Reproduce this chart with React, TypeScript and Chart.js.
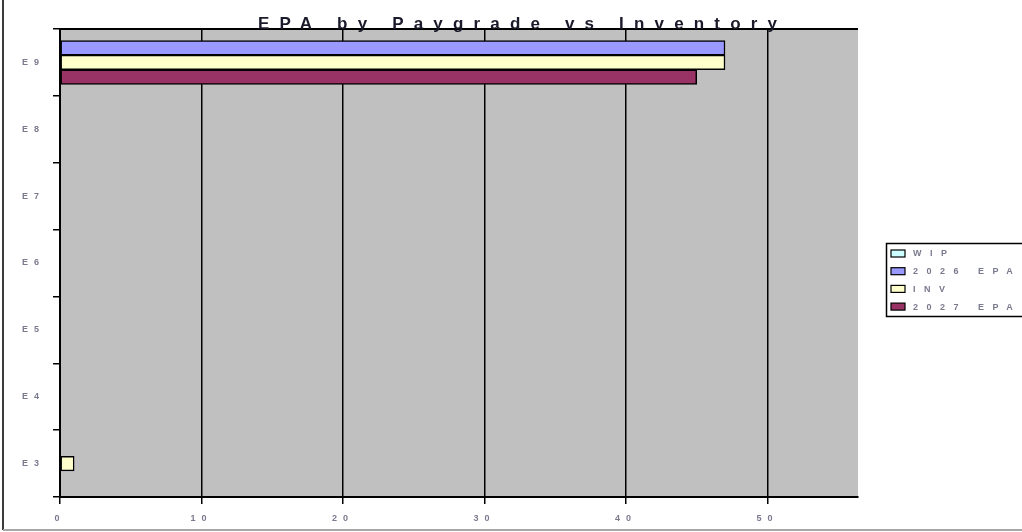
import React, { useEffect, useRef } from "react";
import { Chart, registerables } from "chart.js";

Chart.register(...registerables);

// ---- data ----
const categories = ["E9", "E8", "E7", "E6", "E5", "E4", "E3"];
const seriesNames = ["WIP", "2026 EPA", "INV", "2027 EPA"];
const wipValues: (number | null)[] = [null, null, null, null, null, null, null];
const epa2026Values: (number | null)[] = [47, null, null, null, null, null, null];
const invValues: (number | null)[] = [47, null, null, null, null, null, 1];
const epa2027Values: (number | null)[] = [45, null, null, null, null, null, null];
const xTickValues = [0, 10, 20, 30, 40, 50];
const xMin = 0;
const xMax = 56.4;
const chartTitle = "EPA by Paygrade vs Inventory";

// ---- styles ----
const seriesColors = ["#ccffff", "#9999ff", "#ffffcc", "#993366"];
const FONT_FAMILY = '"Liberation Sans", Arial, sans-serif';
const SMALL_FONT = `bold 9px ${FONT_FAMILY}`;
const SMALL_COLOR = "#7a7a8e";

const decorPlugin = {
  id: "decor",
  beforeDraw(chart: any) {
    const { ctx, chartArea: a } = chart;
    ctx.save();
    ctx.fillStyle = "#c0c0c0";
    ctx.fillRect(a.left, a.top, a.right - a.left, a.bottom - a.top);
    ctx.restore();
    ctx.letterSpacing = "6px";
  },
  afterDraw(chart: any) {
    const { ctx, chartArea: a } = chart;
    ctx.save();
    // top border of plot
    ctx.strokeStyle = "#000";
    ctx.lineWidth = 2;
    ctx.beginPath();
    ctx.moveTo(a.left - 1, a.top);
    ctx.lineTo(a.right, a.top);
    ctx.stroke();

    // outer frame
    ctx.strokeStyle = "#3a3a3a";
    ctx.lineWidth = 2;
    ctx.beginPath();
    ctx.moveTo(3, 0);
    ctx.lineTo(3, 530);
    ctx.stroke();
    ctx.strokeStyle = "#a8a8a8";
    ctx.beginPath();
    ctx.moveTo(3, 530);
    ctx.lineTo(1022, 530);
    ctx.stroke();

    // legend
    const lx = 886.5, ly = 243.5, lw = 140, lh = 73;
    ctx.fillStyle = "#fff";
    ctx.fillRect(lx, ly, lw, lh);
    ctx.strokeStyle = "#000";
    ctx.lineWidth = 1.5;
    ctx.strokeRect(lx, ly, lw, lh);
    ctx.font = SMALL_FONT;
    ctx.textBaseline = "middle";
    ctx.textAlign = "left";
    chart.data.datasets.forEach((ds: any, i: number) => {
      const cy = 253.5 + i * 17.7;
      ctx.fillStyle = ds.backgroundColor;
      ctx.fillRect(891, cy - 3.5, 14, 7);
      ctx.lineWidth = 1.2;
      ctx.strokeStyle = "#000";
      ctx.strokeRect(891, cy - 3.5, 14, 7);
      ctx.fillStyle = SMALL_COLOR;
      ctx.letterSpacing = "8.5px";
      ctx.fillText(ds.label, 913, cy + 0.5);
    });

    // title
    ctx.font = `bold 17px ${FONT_FAMILY}`;
    ctx.letterSpacing = "0px";
    const natural = ctx.measureText(chartTitle).width;
    const target = 519;
    const spacing = (target - natural) / (chartTitle.length - 1);
    ctx.letterSpacing = `${spacing}px`;
    ctx.fillStyle = "#1a1a2a";
    ctx.textBaseline = "alphabetic";
    ctx.fillText(chartTitle, 258, 29);
    ctx.restore();
  },
};

export default function App() {
  const canvasRef = useRef<HTMLCanvasElement | null>(null);

  useEffect(() => {
    if (!canvasRef.current) return;
    const seriesValues = [wipValues, epa2026Values, invValues, epa2027Values];
    const chart = new Chart(canvasRef.current, {
      type: "bar",
      data: {
        labels: categories,
        datasets: seriesNames.map((name, i) => ({
          label: name,
          data: seriesValues[i],
          backgroundColor: seriesColors[i],
          borderColor: "#000",
          borderWidth: 1.5,
          borderSkipped: false,
          barThickness: 14.6,
        })),
      },
      options: {
        indexAxis: "y",
        responsive: false,
        animation: false,
        skipNull: true,
        layout: { padding: { left: 0, top: 29, right: 164, bottom: 0 } },
        plugins: {
          legend: { display: false },
          title: { display: false },
          tooltip: { enabled: false },
        },
        scales: {
          x: {
            type: "linear",
            min: xMin,
            max: xMax,
            afterBuildTicks: (scale: any) => {
              scale.ticks = xTickValues.map((v) => ({ value: v }));
            },
            afterFit: (scale: any) => {
              scale.height = 35;
            },
            grid: {
              color: "#000",
              lineWidth: 1.5,
              tickLength: 7,
              tickColor: "#000",
              tickWidth: 1.5,
            },
            border: { color: "#000", width: 2 },
            ticks: {
              font: { size: 9, weight: "bold", family: FONT_FAMILY },
              color: SMALL_COLOR,
              padding: 9,
              maxRotation: 0,
            },
          },
          y: {
            type: "category",
            afterFit: (scale: any) => {
              scale.width = 60;
            },
            grid: {
              drawOnChartArea: false,
              color: "#000",
              lineWidth: 1.5,
              tickLength: 7,
              offset: true,
            },
            border: { color: "#000", width: 2 },
            ticks: {
              font: { size: 9, weight: "bold", family: FONT_FAMILY },
              color: SMALL_COLOR,
              padding: 8,
            },
          },
        },
      } as any,
      plugins: [decorPlugin],
    });
    return () => chart.destroy();
  }, []);

  return (
    <div style={{ position: "absolute", left: 0, top: 0, width: 1022, height: 532, background: "#fff" }}>
      <canvas ref={canvasRef} width={1022} height={532} style={{ display: "block" }} />
    </div>
  );
}
